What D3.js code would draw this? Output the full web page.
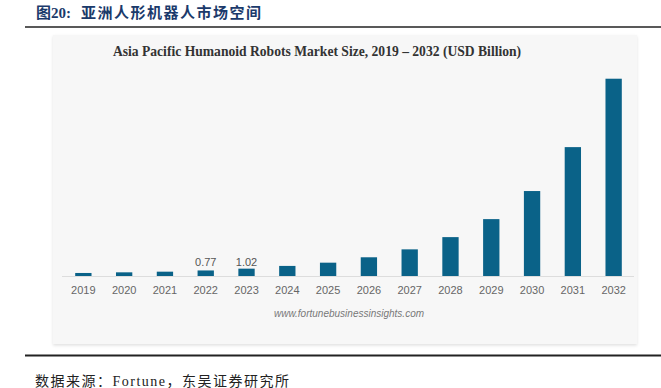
<!DOCTYPE html>
<html>
<head>
<meta charset="utf-8">
<script src="https://cdn.jsdelivr.net/npm/d3@7"></script>
<style>
  body { margin: 0; background: #fff; }
</style>
</head>
<body>
<div id="container"></div>
<script>
// Data.
const years = ['2019', '2020', '2021', '2022', '2023', '2024', '2025',
    '2026', '2027', '2028', '2029', '2030', '2031', '2032'];
const marketSize = [0.42, 0.51, 0.6, 0.77, 1.02, 1.4, 1.85,
    2.6, 3.7, 5.4, 7.9, 11.8, 17.9, 27.4];
const labelledYears = ['2022', '2023'];

const svg = d3.select('#container')
    .append('svg')
    .attr('width', 661)
    .attr('height', 388);

// Report heading and rules.
const heading = svg.append('text')
    .attr('x', 36)
    .attr('y', 18)
    .attr('font-family', '"Liberation Serif", "Noto Sans CJK SC", serif')
    .attr('font-weight', 'bold')
    .attr('font-size', 15)
    .attr('fill', '#1b3a6b');
heading.append('tspan').text('图20:');
heading.append('tspan')
    .attr('dx', 10)
    .attr('letter-spacing', 1.5)
    .text('亚洲人形机器人市场空间');

svg.append('line')
    .attr('x1', 25).attr('x2', 661)
    .attr('y1', 27).attr('y2', 27)
    .attr('stroke', '#222')
    .attr('stroke-width', 1.5);

// Panel with soft shadow.
const defs = svg.append('defs');
const filter = defs.append('filter')
    .attr('id', 'shadow')
    .attr('x', '-5%').attr('y', '-5%')
    .attr('width', '110%').attr('height', '110%');
filter.append('feDropShadow')
    .attr('dx', 0).attr('dy', 1.5)
    .attr('stdDeviation', 1.5)
    .attr('flood-color', '#000')
    .attr('flood-opacity', 0.12);

svg.append('rect')
    .attr('x', 53)
    .attr('y', 35)
    .attr('width', 584)
    .attr('height', 309)
    .attr('fill', '#f7f7f7')
    .attr('filter', 'url(#shadow)');

svg.append('text')
    .attr('x', 317)
    .attr('y', 56)
    .attr('text-anchor', 'middle')
    .attr('font-family', '"Liberation Serif", serif')
    .attr('font-weight', 'bold')
    .attr('font-size', 13.6)
    .attr('fill', '#333')
    .text('Asia Pacific Humanoid Robots Market Size, 2019 – 2032 (USD Billion)');

// Scales.
const x = d3.scaleBand()
    .domain(years)
    .range([65, 632])
    .paddingInner(0.6)
    .paddingOuter(0.25);

const y = d3.scaleLinear()
    .domain([0, 30])
    .range([276, 60]);

// Bars.
svg.selectAll('rect.bar')
    .data(years)
    .enter()
    .append('rect')
    .attr('class', 'bar')
    .attr('x', d => x(d))
    .attr('y', (d, i) => y(marketSize[i]))
    .attr('width', x.bandwidth())
    .attr('height', (d, i) => y(0) - y(marketSize[i]))
    .attr('fill', '#0a6288');

// Value labels.
svg.selectAll('text.value')
    .data(years.filter(d => labelledYears.includes(d)))
    .enter()
    .append('text')
    .attr('class', 'value')
    .attr('x', d => x(d) + x.bandwidth() / 2)
    .attr('y', 266)
    .attr('text-anchor', 'middle')
    .attr('font-family', '"Liberation Sans", Arial, sans-serif')
    .attr('font-size', 11)
    .attr('fill', '#555')
    .text(d => marketSize[years.indexOf(d)].toFixed(2));

// X axis.
const xAxis = svg.append('g')
    .attr('transform', 'translate(0,' + y(0) + ')')
    .call(d3.axisBottom(x).tickSize(0).tickPadding(10));

xAxis.select('.domain')
    .attr('d', 'M62,0.5H634')
    .attr('stroke', '#ddd');

xAxis.selectAll('text')
    .attr('font-family', '"Liberation Sans", Arial, sans-serif')
    .attr('font-size', 11)
    .attr('fill', '#666');

// Source watermark.
svg.append('text')
    .attr('x', 349)
    .attr('y', 317)
    .attr('text-anchor', 'middle')
    .attr('font-family', '"Liberation Sans", Arial, sans-serif')
    .attr('font-style', 'italic')
    .attr('font-size', 10)
    .attr('fill', '#777')
    .text('www.fortunebusinessinsights.com');

// Bottom rule and note.
svg.append('line')
    .attr('x1', 25).attr('x2', 661)
    .attr('y1', 355.5).attr('y2', 355.5)
    .attr('stroke', '#222')
    .attr('stroke-width', 2);

svg.append('text')
    .attr('x', 35)
    .attr('y', 386)
    .attr('font-family', '"Liberation Serif", "Noto Sans CJK SC", serif')
    .attr('font-size', 14)
    .attr('letter-spacing', 1.5)
    .attr('fill', '#222')
    .text('数据来源：Fortune，东吴证券研究所');
</script>
</body>
</html>
